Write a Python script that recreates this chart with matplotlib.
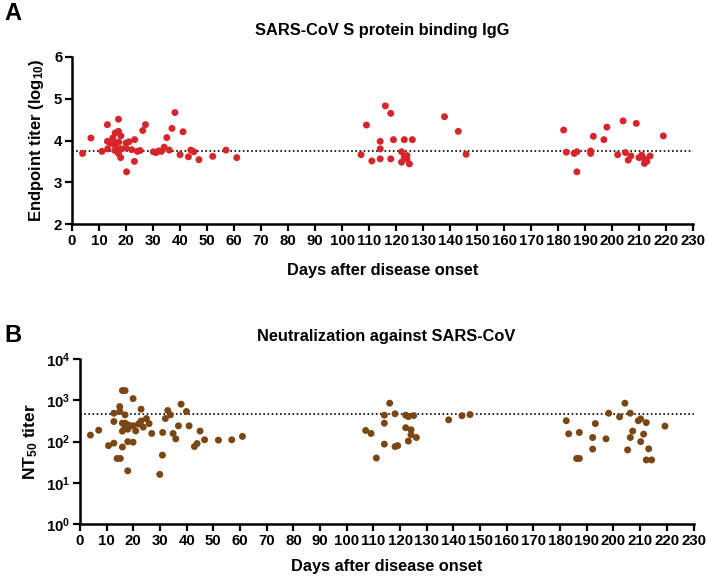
import numpy as np
import matplotlib
matplotlib.use("Agg")
import matplotlib.pyplot as plt
from matplotlib.ticker import FixedLocator, NullLocator

plt.rcParams['font.family'] = ['Liberation Sans', 'DejaVu Sans']
plt.rcParams['font.weight'] = 'bold'
plt.rcParams['mathtext.fontset'] = 'custom'
plt.rcParams['mathtext.rm'] = 'Liberation Sans:bold'
plt.rcParams['mathtext.bf'] = 'Liberation Sans:bold'
plt.rcParams['mathtext.it'] = 'Liberation Sans:bold'

# ---------------- Data ----------------
igg_days = [3.9, 7.0, 11.1, 13.1, 13.1, 13.2, 14.1, 15.1, 16.0, 17.2, 17.2, 18.1, 16.2, 17.3,
            15.6, 15.9, 17.2, 17.2, 18.0, 18.1, 20.0, 20.0, 21.1, 22.1, 23.2, 23.1, 20.2, 24.2,
            25.2, 26.2, 27.2, 30.1, 31.1, 32.1, 33.1, 34.1, 35.1, 36.0, 37.0, 38.1, 40.0, 41.1,
            43.1, 44.0, 45.1, 47.0, 52.1, 57.0, 61.0,
            107.0, 109.0, 111.0, 114.1, 114.1, 114.1, 116.0, 118.0, 118.0, 119.0, 122.0, 122.0,
            123.0, 123.0, 124.0, 124.0, 124.9, 126.0, 137.9, 143.0, 145.9,
            182.0, 183.0, 185.9, 186.9, 186.9, 192.0, 192.0, 193.0, 196.9, 198.0, 202.0, 204.0,
            204.9, 205.9, 206.9, 208.9, 209.9, 210.9, 211.9, 211.9, 212.8, 214.0, 218.9]
igg_log10 = [3.69, 4.06, 3.74, 4.38, 3.98, 3.80, 3.94, 4.06, 4.18, 4.51, 4.22, 4.11, 3.94, 3.96,
             3.90, 3.76, 3.79, 3.69, 3.59, 3.80, 3.82, 3.94, 3.97, 3.78, 4.02, 3.50, 3.25, 3.74,
             3.76, 4.24, 4.38, 3.73, 3.71, 3.75, 3.74, 3.84, 4.07, 3.77, 4.29, 4.67, 3.66, 4.21,
             3.61, 3.77, 3.73, 3.54, 3.62, 3.77, 3.59,
             3.66, 4.37, 3.51, 3.98, 3.80, 3.56, 4.83, 4.65, 3.56, 4.02, 3.73, 3.48,
             4.02, 3.61, 3.64, 3.56, 3.44, 4.02, 4.57, 4.22, 3.67,
             4.25, 3.72, 3.69, 3.73, 3.25, 3.75, 3.69, 4.10, 4.02, 4.32, 3.66, 4.47,
             3.71, 3.53, 3.63, 4.41, 3.59, 3.65, 3.56, 3.45, 3.50, 3.63, 4.11]
igg_cutoff = 3.75

nt_days = [3.9, 7.0, 10.7, 12.7, 12.7, 12.7, 13.9, 15.1, 14.9, 14.9, 15.9, 16.9, 15.9, 15.9,
           15.9, 16.9, 16.9, 16.9, 17.9, 17.9, 17.9, 17.9, 18.9, 19.9, 19.9, 19.9, 20.9, 21.9,
           22.9, 22.9, 23.7, 24.9, 25.9, 26.9, 29.9, 30.9, 31.0, 32.0, 32.9, 33.9, 34.9, 35.9,
           36.9, 37.9, 39.9, 40.9, 42.9, 43.9, 45.0, 46.7, 51.9, 56.9, 60.9,
           107.1, 109.1, 111.1, 114.1, 114.1, 114.1, 116.1, 118.1, 118.1, 119.1, 122.1, 122.1,
           123.1, 123.1, 124.1, 124.1, 125.1, 126.1, 138.2, 143.2, 146.2,
           182.3, 183.2, 186.2, 187.2, 187.2, 192.2, 192.2, 193.2, 197.2, 198.2, 202.3, 204.3,
           205.3, 206.3, 206.3, 207.2, 209.3, 210.2, 210.2, 211.3, 212.3, 212.3, 213.2, 214.3,
           219.3]
nt50 = [144, 190, 80, 92, 308, 490, 39, 39, 710, 540, 1740, 1740, 74, 180,
        281, 281, 448, 225, 256, 201, 100, 19.6, 242, 1110, 242, 97, 182, 268,
        316, 615, 225, 364, 275, 158, 16, 47, 167, 364, 570, 448, 158, 117,
        242, 813, 540, 242, 76, 90, 181, 111, 109, 111, 134,
        187, 158, 40, 87, 281, 440, 860, 475, 76, 80, 440, 218,
        407, 103, 194, 147, 430, 126, 339, 427, 455,
        322, 155, 39, 39, 167, 66, 126, 275, 117, 490, 400, 860,
        63, 490, 126, 181, 322, 358, 100, 152, 290, 36, 67, 36,
        238]
nt_cutoff = 470

x_ticks = list(range(0, 231, 10))
a_yticks = [2, 3, 4, 5, 6]
b_yticks = [1, 10, 100, 1000, 10000]
b_yticklabels = [r'$\mathbf{10^{0}}$', r'$\mathbf{10^{1}}$', r'$\mathbf{10^{2}}$',
                 r'$\mathbf{10^{3}}$', r'$\mathbf{10^{4}}$']

RED = '#D7262B'
BROWN = '#7A4613'

W, H = 707, 579
fig = plt.figure(figsize=(W / 100, H / 100), dpi=100)


def style(ax):
    for s in ['top', 'right']:
        ax.spines[s].set_visible(False)
    for s in ['left', 'bottom']:
        ax.spines[s].set_linewidth(1.8)
    ax.tick_params(axis='both', width=1.6, length=5, labelsize=10.8, pad=2)
    ax.set_xlim(0, 230)
    ax.set_xticks(x_ticks)
    ax.set_xticklabels([str(t) for t in x_ticks], fontweight='bold')
    ax.spines['left'].set_zorder(5)
    ax.spines['bottom'].set_zorder(5)


# ---------------- Panel A ----------------
axA = fig.add_axes([72 / W, 1 - 224 / H, (693.3 - 72) / W, (224 - 57) / H])
style(axA)
axA.set_ylim(2, 6)
axA.set_yticks(a_yticks)
axA.set_yticklabels([str(t) for t in a_yticks], fontweight='bold')
axA.axhline(igg_cutoff, color='black', linestyle=(0, (1, 1.5)), linewidth=1.2, zorder=1)
axA.scatter(igg_days, igg_log10, s=25, color=RED, edgecolors='none', zorder=3, clip_on=False)
axA.set_ylabel(r'Endpoint titer (log$_{10}$)', fontsize=12, fontweight='bold', labelpad=6)
fig.text(382.5 / W, 1 - 30 / H, 'SARS-CoV S protein binding IgG', ha='center', va='center',
         fontsize=11.8, fontweight='bold')
fig.text(382.5 / W, 1 - 271 / H, 'Days after disease onset', ha='center', va='center',
         fontsize=11.8, fontweight='bold')
fig.text(4 / W, 1 - 14 / H, 'A', ha='left', va='center', fontsize=17, fontweight='bold')

# ---------------- Panel B ----------------
axB = fig.add_axes([80 / W, 1 - 524 / H, (693.5 - 80) / W, (524 - 359.3) / H])
style(axB)
axB.set_yscale('log')
axB.set_ylim(1, 10000)
axB.yaxis.set_major_locator(FixedLocator(b_yticks))
axB.yaxis.set_minor_locator(NullLocator())
axB.set_yticklabels(b_yticklabels)
axB.axhline(nt_cutoff, color='black', linestyle=(0, (1, 1.5)), linewidth=1.2, zorder=1)
axB.scatter(nt_days, nt50, s=25, color=BROWN, edgecolors='none', zorder=3, clip_on=False)
axB.set_ylabel(r'NT$_{50}$ titer', fontsize=12.5, fontweight='bold', labelpad=4)
fig.text(386.5 / W, 1 - 337 / H, 'Neutralization against SARS-CoV', ha='center', va='center',
         fontsize=11.8, fontweight='bold')
fig.text(386.5 / W, 1 - 567 / H, 'Days after disease onset', ha='center', va='center',
         fontsize=11.8, fontweight='bold')
fig.text(4 / W, 1 - 335 / H, 'B', ha='left', va='center', fontsize=17, fontweight='bold')

fig.savefig('out.png', dpi=100)
